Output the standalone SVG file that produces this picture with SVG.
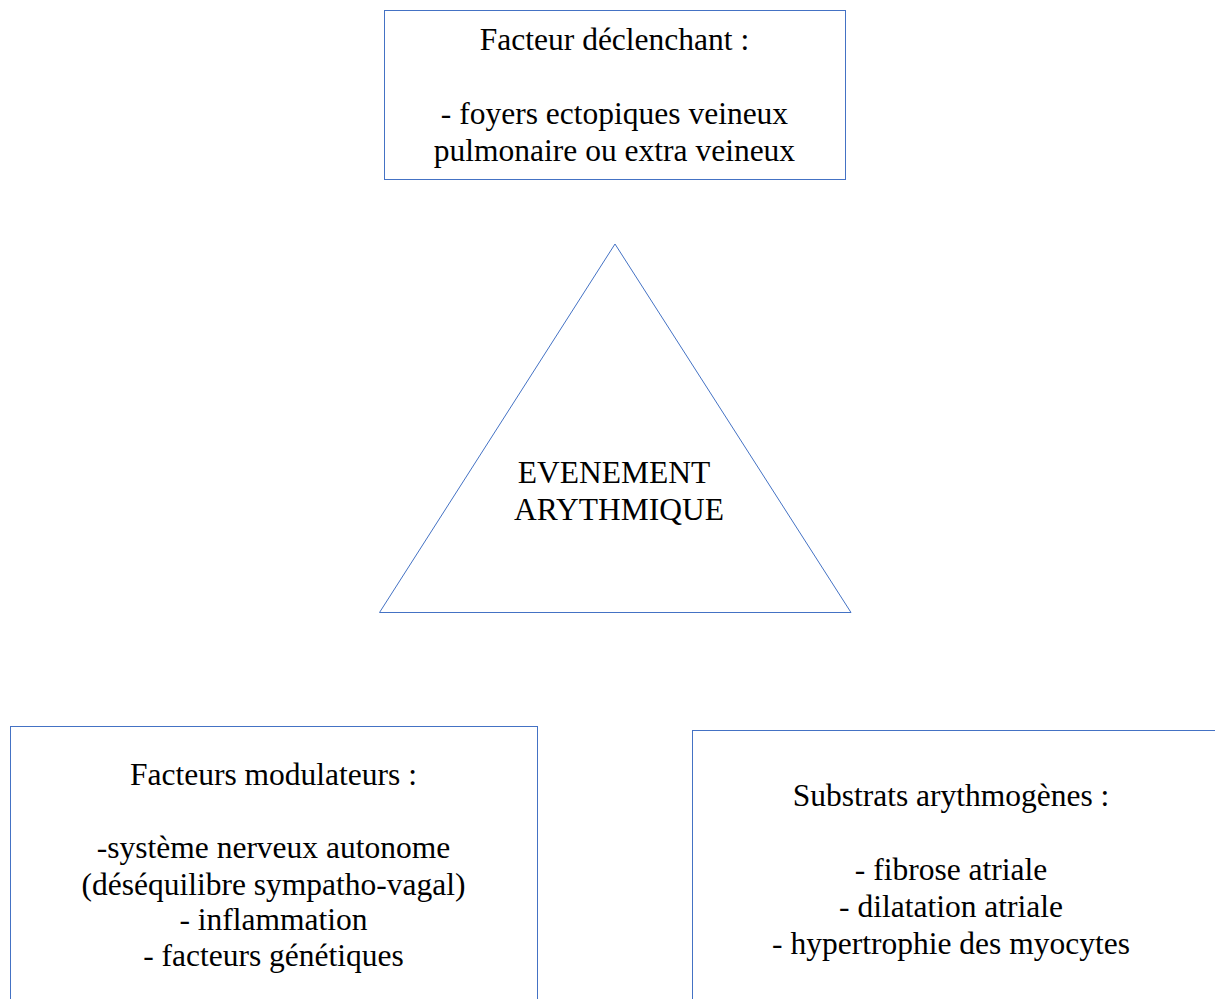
<svg xmlns="http://www.w3.org/2000/svg" width="1215" height="999" viewBox="0 0 1215 999">
<style>
.shape{fill:#ffffff;stroke:#4472C4;stroke-width:1}
.t{font-family:"Liberation Serif","Times New Roman",serif;font-size:31.5px;fill:#000000;text-anchor:middle}
</style>
<rect x="0" y="0" width="1215" height="999" fill="#ffffff"/>
<g id="connectors"></g>
<g id="declencheur">
<rect class="shape" x="384.5" y="10.5" width="461" height="169"/>
<text class="t" x="614.5" y="50">Facteur déclenchant :</text>
<text class="t" x="614.5" y="124">- foyers ectopiques veineux</text>
<text class="t" x="614.5" y="161">pulmonaire ou extra veineux</text>
</g>
<g id="evenement">
<polygon class="shape" points="615,244 379.5,612.5 851,612.5"/>
<text class="t" x="614" y="483">EVENEMENT</text>
<text class="t" x="619" y="520">ARYTHMIQUE</text>
</g>
<g id="modulateurs">
<rect class="shape" x="10.5" y="726.5" width="527" height="300"/>
<text class="t" x="273.5" y="785">Facteurs modulateurs :</text>
<text class="t" x="273.5" y="858">-système nerveux autonome</text>
<text class="t" x="273.5" y="895">(déséquilibre sympatho-vagal)</text>
<text class="t" x="273.5" y="930">- inflammation</text>
<text class="t" x="273.5" y="966">- facteurs génétiques</text>
</g>
<g id="substrats">
<rect class="shape" x="692.5" y="730.5" width="560" height="300"/>
<text class="t" x="951" y="806">Substrats arythmogènes :</text>
<text class="t" x="951" y="880">- fibrose atriale</text>
<text class="t" x="951" y="917">- dilatation atriale</text>
<text class="t" x="951" y="954">- hypertrophie des myocytes</text>
</g>
</svg>
